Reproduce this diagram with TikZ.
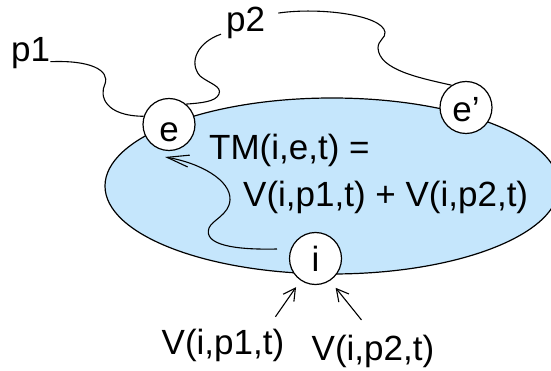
\documentclass[tikz,border=0pt]{standalone}
\usepackage{fontspec}
\setmainfont{Liberation Sans}
\usetikzlibrary{arrows.meta,calc}
\definecolor{ellfill}{RGB}{197,230,252}
\begin{document}
\begin{tikzpicture}[x=1pt,y=-1pt,
  txt/.style={font=\fontsize{35}{42}\selectfont, inner sep=0pt, anchor=base west},
  circ/.style={circle, draw, line width=1.2pt, fill=white, minimum size=52pt, inner sep=0pt, font=\fontsize{35}{42}\selectfont, text depth=0pt},
  wire/.style={line width=1.1pt},
  longarr/.style={line width=1.1pt, -{Straight Barb[length=22pt,width=12pt]}},
  shortarr/.style={line width=1.1pt, -{Straight Barb[length=12pt,width=13pt]}},
]
\useasboundingbox (0,0) rectangle (551,371);
\draw[fill=ellfill, line width=1.2pt] (332,186) ellipse [x radius=227, y radius=88];
\node[circ, text height=34.4pt] (e) at (169,124.5) {e};
\node[circ, text height=29pt] (ep) at (466,107.5) {e'};
\node[circ, text height=26.4pt] (i) at (315.5,258.5) {i};
\node[txt] (p1) at (11,61.7) {p1};
\node[txt] (p2) at (226,31.7) {p2};
\node[txt] (tm) at (209,160) {TM(i,e,t) =};
\node[txt] (sum) at (243,206.7) {V(i,p1,t) + V(i,p2,t)};
\node[txt] (v1) at (161.5,354.3) {V(i,p1,t)};
\node[txt] (v2) at (311.5,360) {V(i,p2,t)};
% wavy connectors
\draw[wire] (p1.base east) .. controls (90,60) and (110,70) .. (105,84)
  .. controls (99,96) and (105,116) .. (e.162);
\draw[wire] ($(p2.base west)+(-5,2.5)$) .. controls (198,42) and (188,62) .. (200,76)
  .. controls (210,84) and (222,86) .. (219,94)
  .. controls (216,102) and (200,103) .. (e.50);
\draw[wire] ($(p2.north east)+(13,6)$) .. controls (320,7) and (382,15) .. (385,32)
  .. controls (386,38) and (378,40) .. (378,48)
  .. controls (379,70) and (420,78) .. (ep.123);
% arrow i -> e
\draw[longarr] ($(i.center)+(-38.5,-9.5)$) .. controls (235,250) and (203,245) .. (209,228)
  .. controls (212,220) and (229,215) .. (230,200)
  .. controls (231,180) and (200,163) .. ($(e.center)+(-4,32.5)$);
% bottom arrows
\draw[shortarr, shorten >=8pt] ($(v1.north east)+(-9,-12)$) -- (i.236);
\draw[shortarr, shorten >=9pt] ($(v2.north west)+(50,-14.5)$) -- (i.303);
\end{tikzpicture}
\end{document}
